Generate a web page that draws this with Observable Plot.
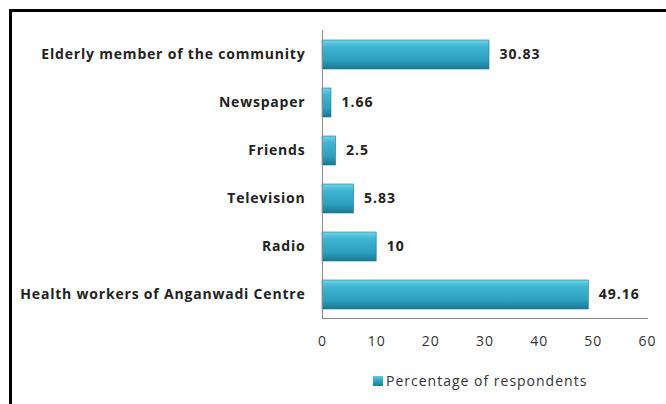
<!DOCTYPE html>
<html><head><meta charset="utf-8">
<script src="https://cdn.jsdelivr.net/npm/d3@7"></script>
<script src="https://cdn.jsdelivr.net/npm/@observablehq/plot@0.6"></script>
<style>
body{margin:0;background:#fff;font-family:"Open Sans",sans-serif;}
#wrap{position:relative;width:666px;height:404px;overflow:hidden;}
#frame{position:absolute;left:9px;top:9px;width:700px;height:440px;border:3px solid #000;box-sizing:border-box;pointer-events:none;}
#legend{position:absolute;left:373px;top:371px;font-size:14px;letter-spacing:1px;color:#333;display:flex;align-items:center;gap:3px;}
#legend span.sw{display:inline-block;width:10px;height:10px;background:linear-gradient(#5cc9e2,#2a9abb 60%,#1d7d99);}
</style></head>
<body><div id="wrap"><div id="frame"></div><div id="chart"></div><div id="legend"><span class="sw"></span><span>Percentage of respondents</span></div></div>
<script>
const categories = ["Elderly member of the community","Newspaper","Friends","Television","Radio","Health workers of Anganwadi Centre"];
const values = [30.83,1.66,2.5,5.83,10,49.16];
const labels = ["30.83","1.66","2.5","5.83","10","49.16"];
const xTicks = [0,10,20,30,40,50,60];
const data = categories.map((c,i)=>({cat:c,v:values[i],lab:labels[i]}));

const plot = Plot.plot({
  width:666, height:362,
  marginLeft:322, marginRight:19, marginTop:30, marginBottom:44,
  style:{fontFamily:"Open Sans, sans-serif", background:"transparent"},
  x:{domain:[0,60], ticks:xTicks, label:null},
  y:{domain:categories, paddingInner:0.4, paddingOuter:0.2, label:null},
  marks:[
    Plot.barX(data,{y:"cat", x:"v", fill:"url(#barGrad)", stroke:"#1d7890", strokeWidth:0.6}),
    Plot.text(data,{y:"cat", x:"v", text:"lab", textAnchor:"start", dx:10, fontSize:14, fontWeight:"bold", fill:"#222"}),
    Plot.frame({anchor:"left", stroke:"#8a8a8a"}),
    Plot.frame({anchor:"bottom", stroke:"#8a8a8a"}),
    Plot.axisX({ticks:xTicks, tickSize:0, tickPadding:18, fontSize:14, color:"#333", label:null}),
    Plot.axisY({tickSize:0, tickPadding:17, fontSize:14, fontWeight:"bold", color:"#222", label:null})
  ]
});
document.getElementById("chart").appendChild(plot);
const svg = d3.select(plot);
svg.selectAll("g[aria-label='y-axis tick label'] text").style("letter-spacing","0.8px");
svg.selectAll("g[aria-label='x-axis tick label'] text").style("letter-spacing","1px");
svg.selectAll("g[aria-label='text'] text").style("letter-spacing","1px");
const defs = svg.insert("defs",":first-child");
const g = defs.append("linearGradient").attr("id","barGrad").attr("x1",0).attr("y1",0).attr("x2",0).attr("y2",1);
g.append("stop").attr("offset","0%").attr("stop-color","#72d6ec");
g.append("stop").attr("offset","22%").attr("stop-color","#40b6d4");
g.append("stop").attr("offset","70%").attr("stop-color","#2d9fbf");
g.append("stop").attr("offset","100%").attr("stop-color","#1b7893");
</script></body></html>
